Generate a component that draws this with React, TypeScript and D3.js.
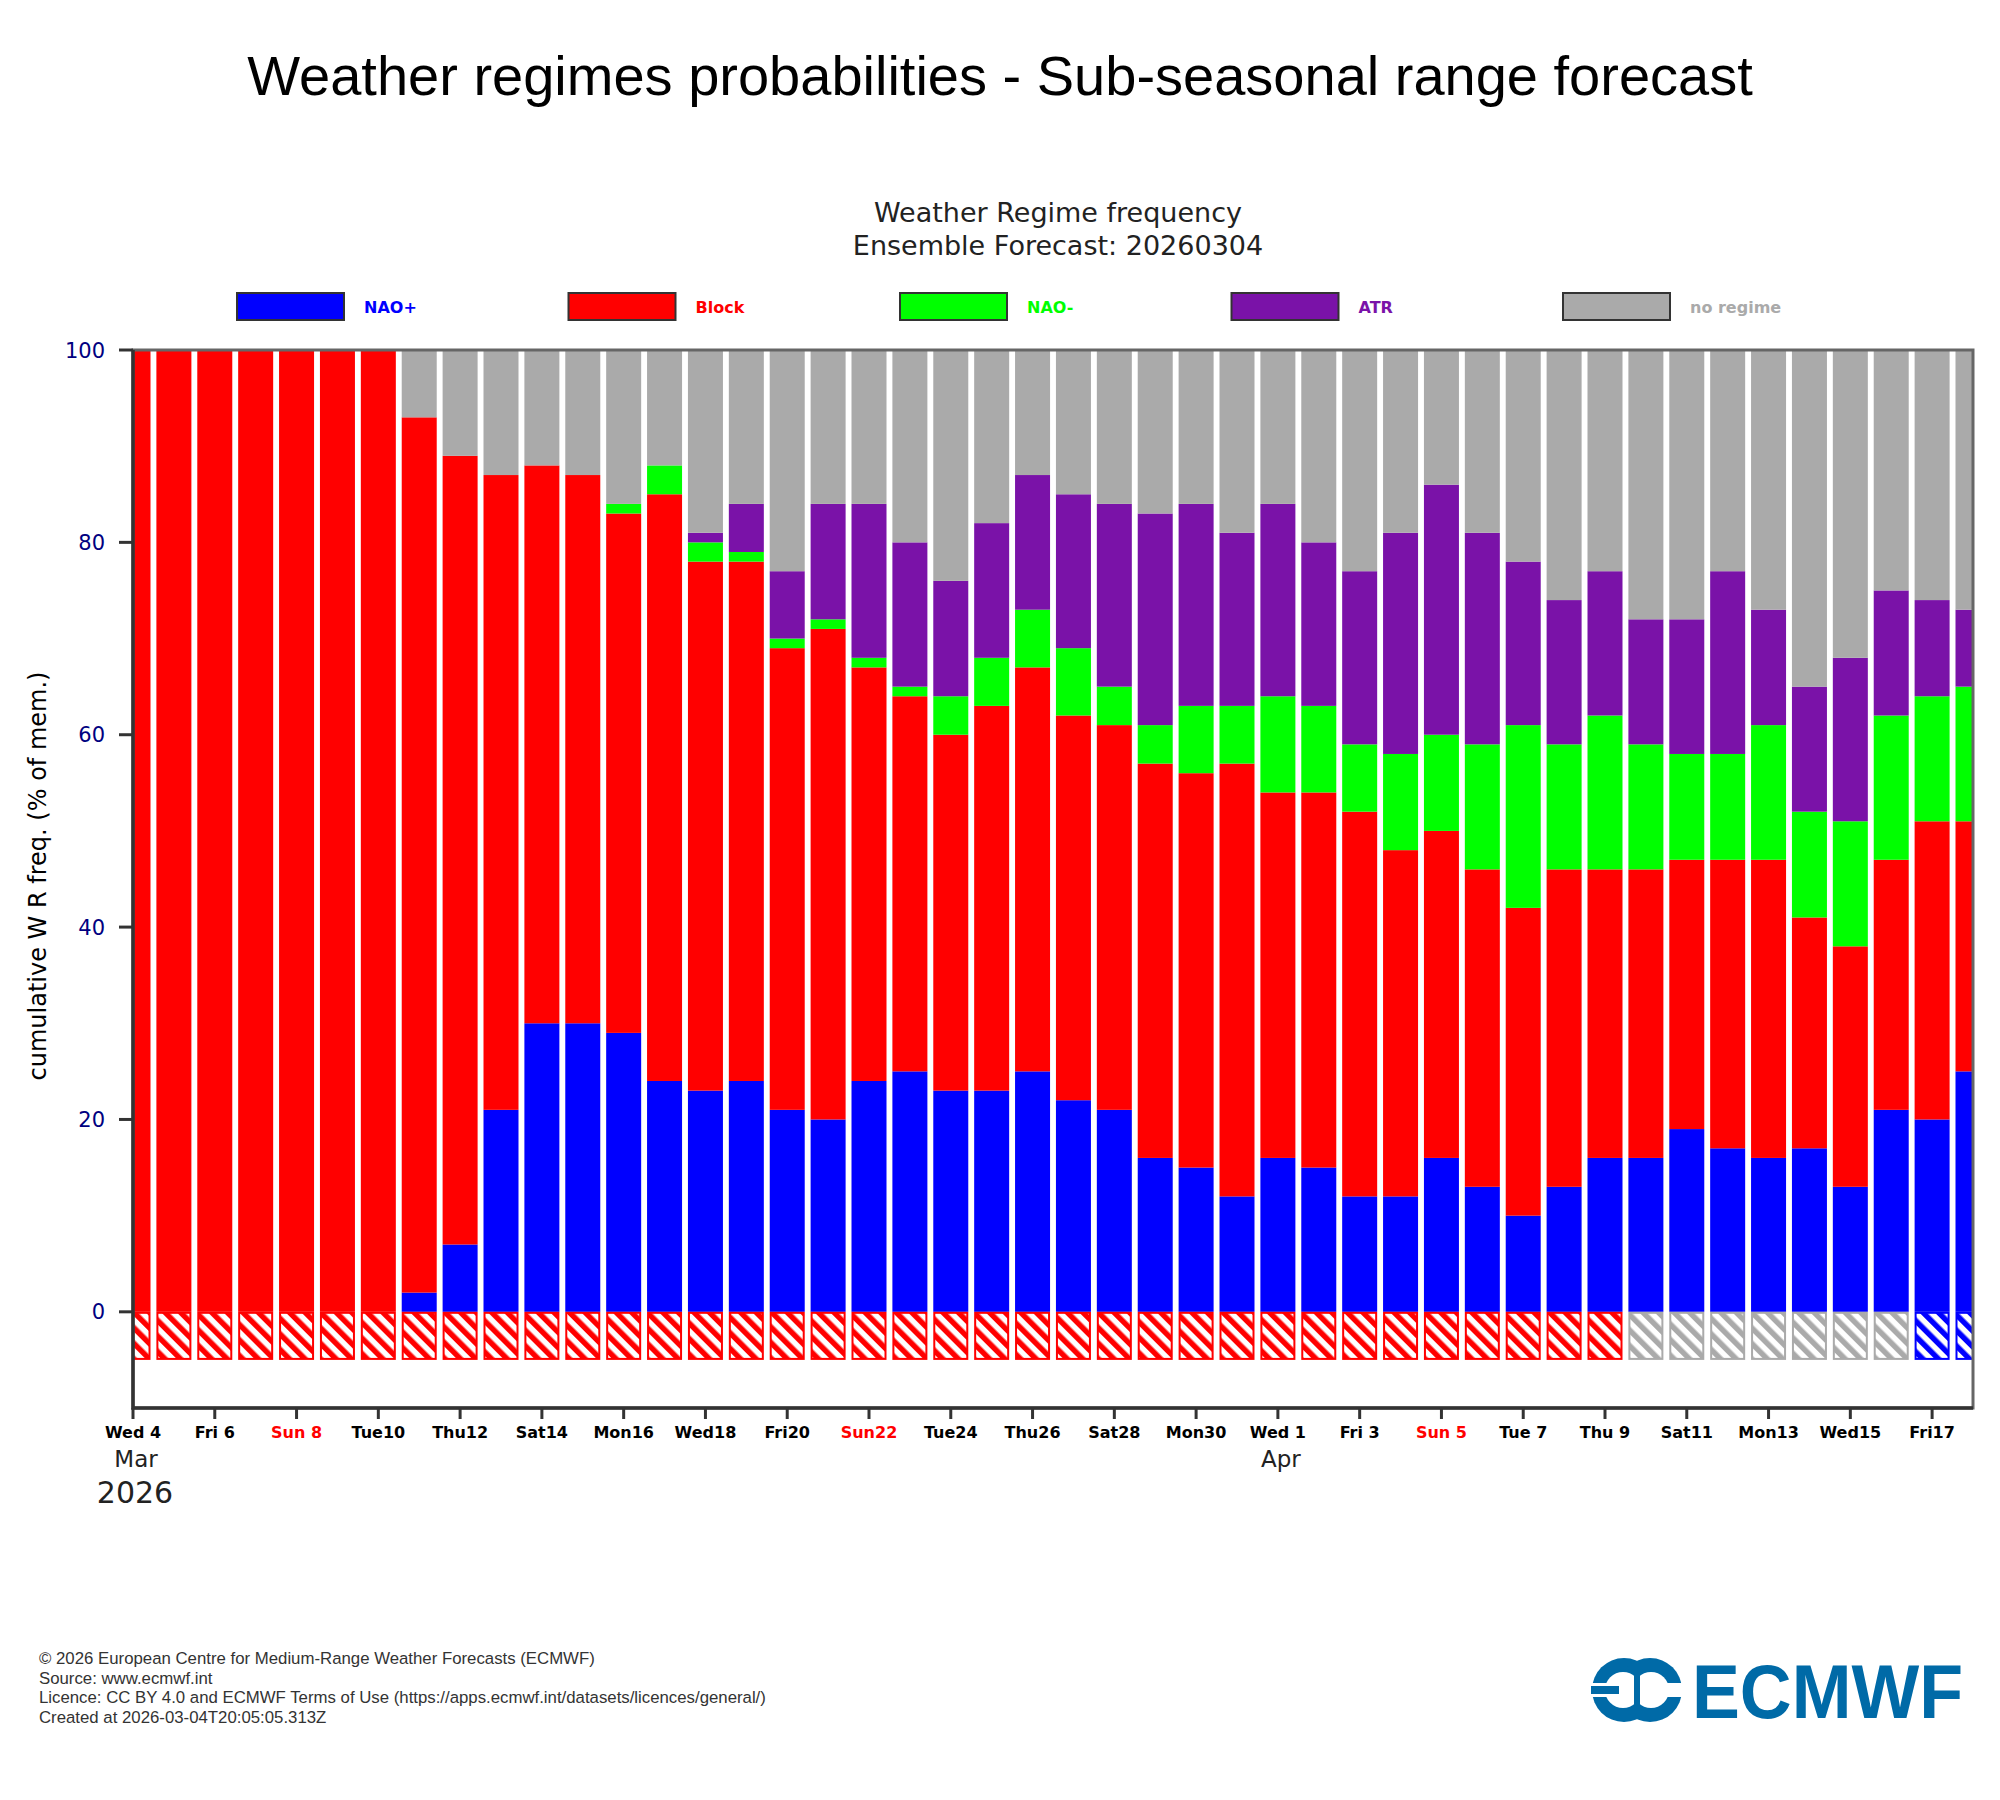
import React, { useEffect, useRef } from 'react';
import * as d3 from 'd3';

// days of the forecast (one bar per day)
const days = [
  '2026-03-04', '2026-03-05', '2026-03-06', '2026-03-07', '2026-03-08', '2026-03-09', '2026-03-10',
  '2026-03-11', '2026-03-12', '2026-03-13', '2026-03-14', '2026-03-15', '2026-03-16', '2026-03-17',
  '2026-03-18', '2026-03-19', '2026-03-20', '2026-03-21', '2026-03-22', '2026-03-23', '2026-03-24',
  '2026-03-25', '2026-03-26', '2026-03-27', '2026-03-28', '2026-03-29', '2026-03-30', '2026-03-31',
  '2026-04-01', '2026-04-02', '2026-04-03', '2026-04-04', '2026-04-05', '2026-04-06', '2026-04-07',
  '2026-04-08', '2026-04-09', '2026-04-10', '2026-04-11', '2026-04-12', '2026-04-13', '2026-04-14',
  '2026-04-15', '2026-04-16', '2026-04-17', '2026-04-18'
];

// % of members per regime
const naoPlus = [0, 0, 0, 0, 0, 0, 0, 2, 7, 21, 30, 30, 29, 24, 23, 24, 21, 20, 24, 25, 23, 23, 25, 22, 21, 16, 15, 12, 16, 15, 12, 12, 16, 13, 10, 13, 16, 16, 19, 17, 16, 17, 13, 21, 20, 25];
const block = [100, 100, 100, 100, 100, 100, 100, 91, 82, 66, 58, 57, 54, 61, 55, 54, 48, 51, 43, 39, 37, 40, 42, 40, 40, 41, 41, 45, 38, 39, 40, 36, 34, 33, 32, 33, 30, 30, 28, 30, 31, 24, 25, 26, 31, 26];
const naoMinus = [0, 0, 0, 0, 0, 0, 0, 0, 0, 0, 0, 0, 1, 3, 2, 1, 1, 1, 1, 1, 4, 5, 6, 7, 4, 4, 7, 6, 10, 9, 7, 10, 10, 13, 19, 13, 16, 13, 11, 11, 14, 11, 13, 15, 13, 14];
const atr = [0, 0, 0, 0, 0, 0, 0, 0, 0, 0, 0, 0, 0, 0, 1, 5, 7, 12, 16, 15, 12, 14, 14, 16, 19, 22, 21, 18, 20, 17, 18, 23, 26, 22, 17, 15, 15, 13, 14, 19, 12, 13, 17, 13, 10, 8];
const noRegime = [0, 0, 0, 0, 0, 0, 0, 7, 11, 13, 12, 13, 16, 12, 19, 16, 23, 16, 16, 20, 24, 18, 13, 15, 16, 17, 16, 19, 16, 20, 23, 19, 14, 19, 22, 26, 23, 28, 28, 23, 27, 35, 32, 25, 26, 27];

// regime shown in the hatched strip under each bar
const hatchRegime = [
  'block', 'block', 'block', 'block', 'block', 'block', 'block', 'block', 'block', 'block',
  'block', 'block', 'block', 'block', 'block', 'block', 'block', 'block', 'block', 'block',
  'block', 'block', 'block', 'block', 'block', 'block', 'block', 'block', 'block', 'block',
  'block', 'block', 'block', 'block', 'block', 'block', 'block',
  'noRegime', 'noRegime', 'noRegime', 'noRegime', 'noRegime', 'noRegime', 'noRegime',
  'naoPlus', 'naoPlus'
];

const regimeKeys = ['naoPlus', 'block', 'naoMinus', 'atr', 'noRegime'];
const regimeNames = ['NAO+', 'Block', 'NAO-', 'ATR', 'no regime'];
const regimeColors = ['#0000ff', '#ff0000', '#00ff00', '#7a12a8', '#aaaaaa'];

const yTicks = [0, 20, 40, 60, 80, 100];

const footerLines = [
  '\u00a9 2026 European Centre for Medium-Range Weather Forecasts (ECMWF)',
  'Source: www.ecmwf.int',
  'Licence: CC BY 4.0 and ECMWF Terms of Use (https://apps.ecmwf.int/datasets/licences/general/)',
  'Created at 2026-03-04T20:05:05.313Z'
];

const App = () => {
  const chartRef = useRef<SVGSVGElement>(null);

  useEffect(() => {
    drawChart();
  }, []);

  const drawChart = () => {
    const width = 2000;
    const height = 1800;
    const left = 133, right = 1973, top = 350, bottom = 1408;
    const barWidth = 35;

    const svg = d3.select(chartRef.current)
      .attr('width', width)
      .attr('height', height)
      .attr('viewBox', [0, 0, width, height] as any)
      .style('position', 'absolute')
      .style('left', 0)
      .style('top', 0)
      .style('background', 'white');
    svg.selectAll('*').remove();

    const parse = d3.utcParse('%Y-%m-%d');
    const dates = days.map(d => parse(d) as Date);
    const color = d3.scaleOrdinal<string, string>().domain(regimeKeys).range(regimeColors);

    const x = d3.scaleUtc()
      .domain([dates[0], dates[dates.length - 1]])
      .range([left, right]);
    const y = d3.scaleLinear().domain([-10, 100]).range([bottom, top]);

    const rows = dates.map((date, i) => ({
      date,
      naoPlus: naoPlus[i],
      block: block[i],
      naoMinus: naoMinus[i],
      atr: atr[i],
      noRegime: noRegime[i],
    }));
    const series = d3.stack<any>().keys(regimeKeys)(rows);

    const defs = svg.append('defs');
    defs.append('clipPath').attr('id', 'plot-clip')
      .append('rect')
      .attr('x', left).attr('y', top)
      .attr('width', right - left).attr('height', bottom - top);

    // hatch patterns: coloured ground with white "\" stripes
    regimeKeys.forEach(k => {
      const p = defs.append('pattern')
        .attr('id', 'hatch-' + k)
        .attr('patternUnits', 'userSpaceOnUse')
        .attr('width', 11)
        .attr('height', 11)
        .attr('patternTransform', 'rotate(45)');
      p.append('rect').attr('width', 11).attr('height', 11).attr('fill', color(k));
      p.append('rect').attr('width', 11).attr('height', 5.5).attr('fill', 'white');
    });

    // titles
    svg.append('text')
      .attr('x', 1000).attr('y', 95)
      .attr('text-anchor', 'middle')
      .style('font', '56px "Liberation Sans", Arial, sans-serif')
      .text('Weather regimes probabilities - Sub-seasonal range forecast');

    svg.append('text')
      .attr('x', 1058).attr('y', 222)
      .attr('text-anchor', 'middle')
      .style('font', '27px "DejaVu Sans", sans-serif')
      .attr('fill', '#222')
      .text('Weather Regime frequency');
    svg.append('text')
      .attr('x', 1058).attr('y', 255)
      .attr('text-anchor', 'middle')
      .style('font', '27px "DejaVu Sans", sans-serif')
      .attr('fill', '#222')
      .text('Ensemble Forecast: 20260304');

    // legend
    const legend = svg.append('g')
      .selectAll('g')
      .data(regimeKeys)
      .join('g')
      .attr('transform', (d, i) => `translate(${237 + i * 331.5},293)`);
    legend.append('rect')
      .attr('width', 107).attr('height', 27)
      .attr('fill', d => color(d))
      .attr('stroke', '#333')
      .attr('stroke-width', 2);
    legend.append('text')
      .attr('x', 127).attr('y', 20)
      .style('font', 'bold 16px "DejaVu Sans", sans-serif')
      .attr('fill', d => color(d))
      .text((d, i) => regimeNames[i]);

    // bars
    const plot = svg.append('g').attr('clip-path', 'url(#plot-clip)');
    plot.append('g')
      .selectAll('g')
      .data(series)
      .join('g')
      .attr('fill', d => color(d.key))
      .selectAll('rect')
      .data(d => d)
      .join('rect')
      .attr('x', (d: any) => x(d.data.date) - barWidth / 2)
      .attr('width', barWidth)
      .attr('y', d => y(d[1]))
      .attr('height', d => y(d[0]) - y(d[1]));

    // hatched regime strip below zero
    plot.append('g')
      .selectAll('rect')
      .data(rows)
      .join('rect')
      .attr('x', d => x(d.date) - barWidth / 2 + 1)
      .attr('width', barWidth - 2)
      .attr('y', y(0) + 1)
      .attr('height', y(-5) - y(0) - 2)
      .attr('fill', (d, i) => `url(#hatch-${hatchRegime[i]})`)
      .attr('stroke', (d, i) => color(hatchRegime[i]))
      .attr('stroke-width', 2);

    // frame
    svg.append('rect')
      .attr('x', left).attr('y', top)
      .attr('width', right - left).attr('height', bottom - top)
      .attr('fill', 'none')
      .attr('stroke', '#666')
      .attr('stroke-width', 3);
    svg.append('path')
      .attr('d', `M${left},${top}V${bottom}H${right}`)
      .attr('fill', 'none')
      .attr('stroke', '#333')
      .attr('stroke-width', 3.5);

    // y axis
    const yAxis = svg.append('g');
    yAxis.selectAll('line')
      .data(yTicks)
      .join('line')
      .attr('x1', left - 14).attr('x2', left)
      .attr('y1', d => y(d)).attr('y2', d => y(d))
      .attr('stroke', '#333')
      .attr('stroke-width', 3);
    yAxis.selectAll('text')
      .data(yTicks)
      .join('text')
      .attr('x', 105)
      .attr('y', d => y(d))
      .attr('dy', '0.36em')
      .attr('text-anchor', 'end')
      .attr('fill', '#000080')
      .style('font', '21px "DejaVu Sans", sans-serif')
      .text(d => d);

    svg.append('text')
      .attr('transform', `translate(38,${(top + bottom) / 2 - 3}) rotate(-90)`)
      .attr('text-anchor', 'middle')
      .attr('dy', '0.35em')
      .style('font', '24px "DejaVu Sans", sans-serif')
      .text('cumulative W R freq. (% of mem.)');

    // x axis: every second day
    const tickDates = dates.filter((d, i) => i % 2 === 0);
    const fmtDay = d3.utcFormat('%a');
    const xAxis = svg.append('g');
    xAxis.selectAll('line')
      .data(tickDates)
      .join('line')
      .attr('x1', d => x(d)).attr('x2', d => x(d))
      .attr('y1', bottom).attr('y2', bottom + 11)
      .attr('stroke', '#333')
      .attr('stroke-width', 3);
    xAxis.selectAll('text')
      .data(tickDates)
      .join('text')
      .attr('x', d => x(d))
      .attr('y', 1438)
      .attr('text-anchor', 'middle')
      .attr('fill', d => d.getUTCDay() === 0 ? '#ff0000' : '#000')
      .style('font', 'bold 16px "DejaVu Sans", sans-serif')
      .text(d => {
        const n = d.getUTCDate();
        return fmtDay(d) + (n < 10 ? ' ' : '') + n;
      });

    // month / year labels
    const monthStarts = tickDates.filter((d, i) => i === 0 || d.getUTCDate() <= 2 && d.getUTCMonth() !== tickDates[0].getUTCMonth());
    svg.append('g')
      .selectAll('text')
      .data(monthStarts)
      .join('text')
      .attr('x', d => x(d) + 3)
      .attr('y', 1467)
      .attr('text-anchor', 'middle')
      .style('font', '23px "DejaVu Sans", sans-serif')
      .attr('fill', '#222')
      .text(d3.utcFormat('%b'));
    svg.append('text')
      .attr('x', x(dates[0]) + 2)
      .attr('y', 1503)
      .attr('text-anchor', 'middle')
      .style('font', '30px "DejaVu Sans", sans-serif')
      .attr('fill', '#222')
      .text(d3.utcFormat('%Y')(dates[0]));

    // footer
    svg.append('g')
      .selectAll('text')
      .data(footerLines)
      .join('text')
      .attr('x', 39)
      .attr('y', (d, i) => 1664 + i * 19.5)
      .attr('fill', '#333')
      .style('font', '16.8px "Liberation Sans", Arial, sans-serif')
      .text(d => d);

    // ECMWF logo
    const logo = svg.append('g').attr('fill', '#006aa7');
    const cy = 1690;
    logo.append('circle').attr('cx', 1624).attr('cy', cy).attr('r', 32);
    logo.append('circle').attr('cx', 1650).attr('cy', cy).attr('r', 32);
    logo.append('circle').attr('cx', 1623).attr('cy', cy).attr('r', 18).attr('fill', 'white');
    logo.append('circle').attr('cx', 1651).attr('cy', cy).attr('r', 18).attr('fill', 'white');
    logo.append('rect').attr('x', 1634).attr('y', cy - 22).attr('width', 6).attr('height', 44);
    logo.append('rect').attr('x', 1651).attr('y', cy - 7).attr('width', 35).attr('height', 14).attr('fill', 'white');
    logo.append('rect').attr('x', 1588).attr('y', cy - 7).attr('width', 36).attr('height', 14).attr('fill', 'white');
    logo.append('rect').attr('x', 1591).attr('y', cy - 4).attr('width', 28).attr('height', 8);
    logo.append('text')
      .attr('x', 1692).attr('y', 1718)
      .attr('textLength', 271)
      .attr('lengthAdjust', 'spacingAndGlyphs')
      .style('font', 'bold 76px "Liberation Sans", Arial, sans-serif')
      .text('ECMWF');
  };

  return <svg ref={chartRef}></svg>;
};

export default App;
